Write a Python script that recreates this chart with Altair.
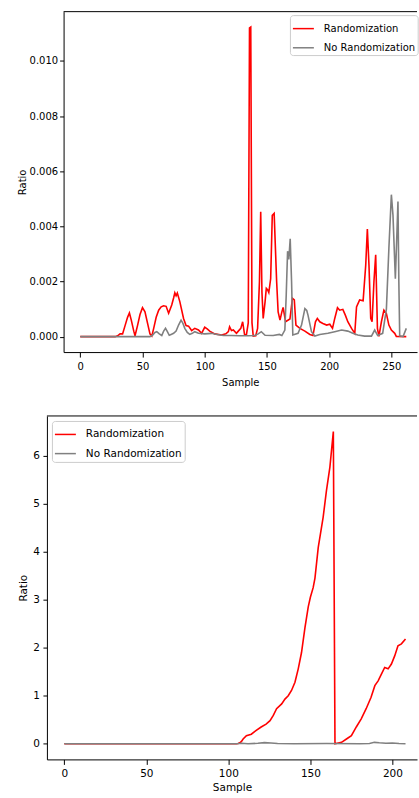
import altair as alt
import pandas as pd

FONT = "DejaVu Sans"
series_names = ["Randomization", "No Randomization"]
series_colors = ["#ff0000", "#808080"]

# ---------------- top panel data ----------------
top_rand_x = [0, 28, 30, 32, 34, 36, 38, 39.5, 41, 43, 44, 46, 48, 50, 52, 54, 56, 57.5, 59, 61,
              63, 65, 67, 69, 71, 73.5, 75, 76, 77, 78, 80, 83, 85, 87, 89.5, 92, 95, 97.5, 100, 102,
              104, 108, 113.5, 117, 119, 120, 121.5, 123, 125.5, 127, 129, 130.5, 132, 133.5, 135, 136, 137, 138, 139, 141,
              142.5, 144, 145, 146, 147, 148.5, 149.5, 150.5, 151.5, 153, 154.3, 155.8, 157.8, 159, 160.5, 162, 163, 165, 168.5, 170.5,
              172, 173.3, 176.5, 180.5, 184.5, 187, 189, 190.5, 192.5, 195, 198, 200.5, 202.7, 204.5, 206.7, 208.5, 211, 213,
              215, 218, 220.6, 222, 224.5, 227.3, 229.4, 230.7, 232, 233.4, 234.5, 236, 237.4, 238.8, 240, 242, 244, 246,
              248, 250, 252.7, 254, 262]
top_rand_y = [0, 0, 0.00003, 0.0001, 0.0001, 0.0004, 0.0007, 0.00086, 0.0006, 0.0002, 0.00003, 0.0004, 0.0008, 0.00105, 0.0009, 0.0005, 0.0001, 0.00002, 0.0003, 0.0007,
              0.00096, 0.00108, 0.00112, 0.0011, 0.00085, 0.00115, 0.0014, 0.00159, 0.00148, 0.00158, 0.00127, 0.00066, 0.0004, 0.00038, 0.00022, 0.0003, 0.00024, 0.00012, 0.00034, 0.00028,
              0.0002, 0.0001, 0.00006, 0.0001, 0.00018, 0.00036, 0.00022, 0.00024, 0.00012, 0.0002, 0.0003, 0.00054, 0.00008, 0.00006, 0.0005, 0.0112, 0.01123, 0.0005, 0.00002, 0.00003,
              0.0003, 0.002, 0.00453, 0.0016, 0.00066, 0.00126, 0.00175, 0.0017, 0.0016, 0.0021, 0.0044, 0.00447, 0.002, 0.0009, 0.0006, 0.0009, 0.00106, 0.00054, 0.00064, 0.00139,
              0.00133, 0.00042, 0.0003, 0.0002, 0.00008, 0.00004, 0.00054, 0.00066, 0.00054, 0.00048, 0.00042, 0.00045, 0.0003, 0.00066, 0.00105, 0.00096, 0.00099, 0.00078,
              0.00054, 0.0003, 0.00012, 0.00108, 0.00133, 0.0013, 0.0026, 0.0039, 0.0026, 0.00066, 0.00054, 0.002, 0.00297, 0.0003, 0.00001, 0.00054, 0.00096, 0.00084,
              0.00042, 0.00024, 0.00012, 0.00001, 0]

top_norand_x = [0, 56, 58, 60, 61.5, 63.5, 65.5, 67, 68.5, 70, 71.5, 73, 75, 77, 79, 81, 82.5, 84, 86, 88,
                90, 92, 95, 100, 105.5, 110, 115, 121.5, 128, 135, 140, 143, 145.5, 148.5, 155, 160, 162, 164.4, 165.5, 166.6,
                167.6, 168.7, 169.8, 170.8, 175, 177.8, 180.5, 182, 183, 185.8, 188.5, 192.5, 199, 204.5, 210, 215, 219, 223, 228.5, 234,
                236.6, 239, 243, 246, 248, 250, 251.3, 253.2, 254.5, 255.3, 256, 256.7, 259.4, 262]
top_norand_y = [0, 0, 0.00005, 0.00015, 0.00018, 0.0001, 0.00004, 0.0002, 0.0003, 0.00018, 0.00005, 0.00008, 0.00012, 0.0002, 0.00042, 0.0006, 0.00048, 0.0003, 0.00015, 0.00008,
                0.00012, 0.00018, 0.00012, 0.0001, 0.00012, 0.00008, 0.00004, 0.00004, 0.00003, 0.00003, 0.00004, 0.0001, 0.00018, 0.00005, 0.00004, 0.00008, 0.00004, 0.00024, 0.0015, 0.0031,
                0.0028, 0.00355, 0.002, 0.00006, 0.00012, 0.00042, 0.00102, 0.00095, 0.00078, 0.00018, 0.00002, 0.00008, 0.00012, 0.00018, 0.00024, 0.0002, 0.00012, 0.00006, 0.00002, 0.00002,
                0.00024, 0.00004, 0.00012, 0.001, 0.0032, 0.00515, 0.0044, 0.0021, 0.0038, 0.0049, 0.002, 0.00003, 0, 0.0003]

# ---------------- bottom panel data ----------------
bot_rand_x = [0, 105, 106, 107, 108, 109, 111, 114, 117, 120, 123, 125.4, 127.4, 129.4, 132.5, 134.5, 136.5, 138.5, 140.6, 142.6,
              144.6, 146.7, 148.7, 150, 151.7, 152.8, 154.8, 157.8, 159.8, 161.9, 164, 165, 169, 172, 175, 178, 181, 184, 187, 189.3,
              191.3, 193.3, 195.3, 197.4, 199.4, 201.4, 203.4, 205.5, 208]
bot_rand_y = [0, 0, 0.005, 0.02, 0.05, 0.1, 0.17, 0.2, 0.28, 0.35, 0.41, 0.48, 0.59, 0.73, 0.83, 0.93, 1.0, 1.11, 1.28, 1.56,
              1.9, 2.42, 2.85, 3.05, 3.25, 3.45, 4.09, 4.72, 5.27, 5.76, 6.5, 0.0, 0.03, 0.1, 0.17, 0.35, 0.52, 0.73, 0.97, 1.21,
              1.31, 1.45, 1.59, 1.56, 1.66, 1.83, 2.04, 2.08, 2.18]

bot_norand_x = [0, 105, 108, 112, 118, 122, 126, 130, 140, 160, 180, 186, 189, 192, 196, 200, 204, 208]
bot_norand_y = [0, 0, 0.01, 0.0, 0.01, 0.025, 0.015, 0.005, 0.0, 0.005, 0.0, 0.005, 0.03, 0.02, 0.01, 0.015, 0.005, 0.0]


def make_df(xr, yr, xn, yn):
    return pd.DataFrame({
        "Sample": list(xr) + list(xn),
        "Ratio": list(yr) + list(yn),
        "Series": [series_names[0]] * len(xr) + [series_names[1]] * len(xn),
    })


W = 370.7  # common group width (plot right edge lands on the window edge)


def panel(df, xdom, ydom, xticks, yticks, yfmt, height, inset, legx, legy, fs,
          lab_pad, title_pad, xtitle_pad):
    # inset: how far (px) the plot's left spine sits right of the group origin
    color = alt.Color(
        "Series:N",
        scale=alt.Scale(domain=series_names, range=series_colors),
        legend=alt.Legend(
            orient="none", legendX=legx, legendY=legy, title=None,
            symbolType="stroke", symbolSize=441, symbolStrokeWidth=1.5,
            labelFont=FONT, labelFontSize=fs, labelColor="black", labelOffset=9,
            fillColor="white", strokeColor="#cccccc", cornerRadius=3,
            padding=2, rowPadding=2.2, labelLimit=200,
        ),
    )
    x = alt.X("Sample:Q",
              scale=alt.Scale(domain=xdom, nice=False, zero=False, range=[inset, W]),
              axis=alt.Axis(values=xticks, title="Sample", labelFontSize=fs, titleFontSize=fs,
                            tickSize=5, labelPadding=4, titlePadding=xtitle_pad, labelFlush=False))
    y = alt.Y("Ratio:Q", scale=alt.Scale(domain=ydom, nice=False, zero=False),
              axis=alt.Axis(values=yticks, format=yfmt, title="Ratio", labelFontSize=fs, titleFontSize=fs,
                            tickSize=4, labelPadding=lab_pad, titlePadding=title_pad, labelFlush=False,
                            offset=-inset))
    base = alt.Chart(df).mark_line(strokeWidth=1.6, clip=False).encode(x=x, y=y, color=color)
    red = base.transform_filter(alt.datum.Series == series_names[0])
    gray = base.transform_filter(alt.datum.Series == series_names[1])
    spine = alt.Chart(pd.DataFrame({"k": [0]})).mark_rule(color="black", strokeWidth=1).encode(
        x=alt.value(inset), x2=alt.value(W), y=alt.value(0))
    return alt.layer(red, gray, spine).properties(width=W, height=height)


top = panel(make_df(top_rand_x, top_rand_y, top_norand_x, top_norand_y),
            [-13.4, 270.6], [-0.00056, 0.01179], [0, 50, 100, 150, 200, 250],
            [0, 0.002, 0.004, 0.006, 0.008, 0.010], ".3f", 341, 16.7, 243.4, 3.5, 10, 2, 2, 6)
bottom = panel(make_df(bot_rand_x, bot_rand_y, bot_norand_x, bot_norand_y),
               [-10.6, 215.0], [-0.325, 6.825], [0, 50, 100, 150, 200],
               [0, 1, 2, 3, 4, 5, 6], "d", 344, 0, 5, 5, 10.5, 3.5, 4.5, 4)

chart = alt.concat(top, bottom, columns=1, spacing=28).properties(
    align="none",
    background="white",
    padding={"left": 17, "top": 10, "right": 0, "bottom": 0},
).resolve_scale(color="independent").resolve_legend(color="independent").configure_view(
    stroke=None
).configure_axis(
    domainColor="black", tickColor="black", labelColor="black", titleColor="black",
    grid=False, labelFont=FONT, titleFont=FONT, titleFontWeight="normal",
    domainWidth=1, tickWidth=1,
)

chart.save("out.html", embed_options={"renderer": "svg", "actions": False})
